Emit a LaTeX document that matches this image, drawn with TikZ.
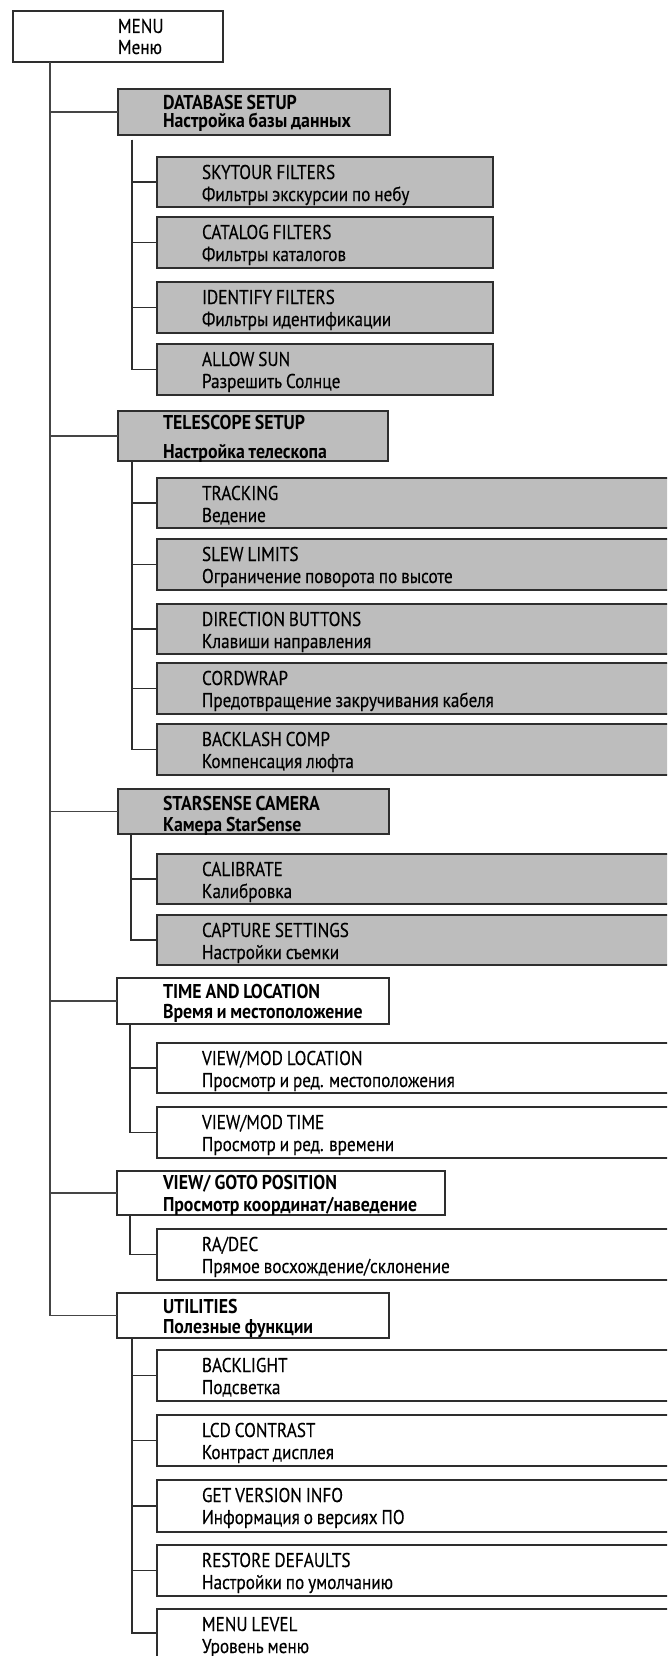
\documentclass[tikz,border=0pt]{standalone}
\usepackage{fontspec}
\setmainfont{PT Sans}[FakeStretch=0.86,WordSpace=0.85,UprightFeatures={FakeBold=0.3},BoldFeatures={FakeStretch=0.89}]
\definecolor{boxgray}{HTML}{BDBDBD}
\definecolor{linegray}{HTML}{2E2E2E}
\definecolor{trunkgray}{HTML}{454545}
\tikzset{
  mbox/.style={draw=linegray, line width=1.3pt, inner sep=0pt, outer sep=0pt, anchor=north west},
  graybox/.style={mbox, fill=boxgray},
  whitebox/.style={mbox, fill=white},
  txt/.style={anchor=base west, inner sep=0pt, outer sep=0pt, font=\fontsize{20}{23}\selectfont},
  btxt/.style={txt, font=\fontsize{20}{23}\selectfont\bfseries},
  conn/.style={draw=linegray, line width=1.1pt},
  trunk/.style={draw=trunkgray, line width=1.6pt}
}
\begin{document}
\begin{tikzpicture}[x=1pt,y=-1pt]
\path[use as bounding box] (0,0) rectangle (667,1656);
\clip (0,0) rectangle (667,1656);
% ---------- boxes ----------
\node[whitebox, minimum width=210pt, minimum height=51pt] (menu) at (13,11) {};
\node[txt] (menuA) at (118,33) {MENU};
\node[txt] (menuB) at (118,54) {Меню};

\node[graybox, minimum width=272pt, minimum height=46pt] (db) at (118,89) {};
\node[btxt] (dbA) at (163,110) {DATABASE SETUP};
\node[btxt] (dbB) at (163,128) {Настройка базы данных};

\node[graybox, minimum width=336pt, minimum height=50pt] (sky) at (157,157) {};
\node[txt] (skyA) at (202,179) {SKYTOUR FILTERS};
\node[txt] (skyB) at (202,201) {Фильтры экскурсии по небу};

\node[graybox, minimum width=336pt, minimum height=51pt] (cat) at (157,217) {};
\node[txt] (catA) at (202,239) {CATALOG FILTERS};
\node[txt] (catB) at (202,261) {Фильтры каталогов};

\node[graybox, minimum width=336pt, minimum height=51pt] (idf) at (157,282) {};
\node[txt] (idfA) at (202,304) {IDENTIFY FILTERS};
\node[txt] (idfB) at (202,326) {Фильтры идентификации};

\node[graybox, minimum width=336pt, minimum height=51pt] (sun) at (157,344) {};
\node[txt] (sunA) at (202,366) {ALLOW SUN};
\node[txt] (sunB) at (202,388) {Разрешить Солнце};

\node[graybox, minimum width=270pt, minimum height=50pt] (tel) at (118,411) {};
\node[btxt] (telA) at (163,429) {TELESCOPE SETUP};
\node[btxt] (telB) at (163,458) {Настройка телескопа};

\node[graybox, minimum width=530pt, minimum height=50pt] (trk) at (157,478) {};
\node[txt] (trkA) at (202,500) {TRACKING};
\node[txt] (trkB) at (202,522) {Ведение};

\node[graybox, minimum width=530pt, minimum height=51pt] (slw) at (157,539) {};
\node[txt] (slwA) at (202,561) {SLEW LIMITS};
\node[txt] (slwB) at (202,583) {Ограничение поворота по высоте};

\node[graybox, minimum width=530pt, minimum height=50pt] (dir) at (157,604) {};
\node[txt] (dirA) at (202,626) {DIRECTION BUTTONS};
\node[txt] (dirB) at (202,648) {Клавиши направления};

\node[graybox, minimum width=530pt, minimum height=51pt] (crd) at (157,663) {};
\node[txt] (crdA) at (202,685) {CORDWRAP};
\node[txt] (crdB) at (202,707) {Предотвращение закручивания кабеля};

\node[graybox, minimum width=530pt, minimum height=51pt] (bck) at (157,724) {};
\node[txt] (bckA) at (202,746) {BACKLASH COMP};
\node[txt] (bckB) at (202,768) {Компенсация люфта};

\node[graybox, minimum width=271pt, minimum height=45pt] (sts) at (118,789) {};
\node[btxt] (stsA) at (163,810) {STARSENSE CAMERA};
\node[btxt] (stsB) at (163,831) {Камера StarSense};

\node[graybox, minimum width=530pt, minimum height=50pt] (cal) at (157,854) {};
\node[txt] (calA) at (202,876) {CALIBRATE};
\node[txt] (calB) at (202,898) {Калибровка};

\node[graybox, minimum width=530pt, minimum height=50pt] (cap) at (157,915) {};
\node[txt] (capA) at (202,937) {CAPTURE SETTINGS};
\node[txt] (capB) at (202,959) {Настройки съемки};

\node[whitebox, minimum width=272pt, minimum height=46pt] (tim) at (117,978) {};
\node[btxt] (timA) at (163,998) {TIME AND LOCATION};
\node[btxt] (timB) at (163,1018) {Время и местоположение};

\node[whitebox, minimum width=530pt, minimum height=50pt] (loc) at (157,1043) {};
\node[txt] (locA) at (202,1065) {VIEW/MOD LOCATION};
\node[txt] (locB) at (202,1087) {Просмотр и ред. местоположения};

\node[whitebox, minimum width=530pt, minimum height=51pt] (vtm) at (157,1107) {};
\node[txt] (vtmA) at (202,1129) {VIEW/MOD TIME};
\node[txt] (vtmB) at (202,1151) {Просмотр и ред. времени};

\node[whitebox, minimum width=328pt, minimum height=44pt] (gto) at (117,1171) {};
\node[btxt] (gtoA) at (163,1189) {VIEW/ GOTO POSITION};
\node[btxt] (gtoB) at (163,1211) {Просмотр координат/наведение};

\node[whitebox, minimum width=530pt, minimum height=51pt] (rad) at (157,1229) {};
\node[txt] (radA) at (202,1251) {RA/DEC};
\node[txt] (radB) at (202,1273) {Прямое восхождение/склонение};

\node[whitebox, minimum width=272pt, minimum height=45pt] (utl) at (117,1293) {};
\node[btxt] (utlA) at (163,1313) {UTILITIES};
\node[btxt] (utlB) at (163,1333) {Полезные функции};

\node[whitebox, minimum width=530pt, minimum height=51pt] (bkl) at (157,1350) {};
\node[txt] (bklA) at (202,1372) {BACKLIGHT};
\node[txt] (bklB) at (202,1394) {Подсветка};

\node[whitebox, minimum width=530pt, minimum height=51pt] (lcd) at (157,1415) {};
\node[txt] (lcdA) at (202,1437) {LCD CONTRAST};
\node[txt] (lcdB) at (202,1459) {Контраст дисплея};

\node[whitebox, minimum width=530pt, minimum height=52pt] (ver) at (157,1480) {};
\node[txt] (verA) at (202,1502) {GET VERSION INFO};
\node[txt] (verB) at (202,1524) {Информация о версиях ПО};

\node[whitebox, minimum width=530pt, minimum height=51pt] (rst) at (157,1545) {};
\node[txt] (rstA) at (202,1567) {RESTORE DEFAULTS};
\node[txt] (rstB) at (202,1589) {Настройки по умолчанию};

\node[whitebox, minimum width=530pt, minimum height=48pt] (mlv) at (157,1609) {};
\node[txt] (mlvA) at (202,1631) {MENU LEVEL};
\node[txt] (mlvB) at (202,1653) {Уровень меню};

% ---------- connectors ----------
\coordinate (t0) at (50,62);
\foreach \n in {db,tel,sts,tim,gto,utl} \draw[trunk] (t0) |- (\n.west);

\coordinate (t1) at (132,140);
\foreach \n in {sky,cat,idf,sun} \draw[conn] (t1) |- (\n.west);
\coordinate (t2) at (132,461);
\foreach \n in {trk,slw,dir,crd,bck} \draw[conn] (t2) |- (\n.west);
\coordinate (t3) at (131,834);
\foreach \n in {cal,cap} \draw[conn] (t3) |- (\n.west);
\coordinate (t4) at (130,1024);
\foreach \n in {loc,vtm} \draw[conn] (t4) |- (\n.west);
\coordinate (t5) at (130,1215);
\draw[conn] (t5) |- (rad.west);
\coordinate (t6) at (132,1338);
\foreach \n in {bkl,lcd,ver,rst,mlv} \draw[conn] (t6) |- (\n.west);
\end{tikzpicture}
\end{document}
